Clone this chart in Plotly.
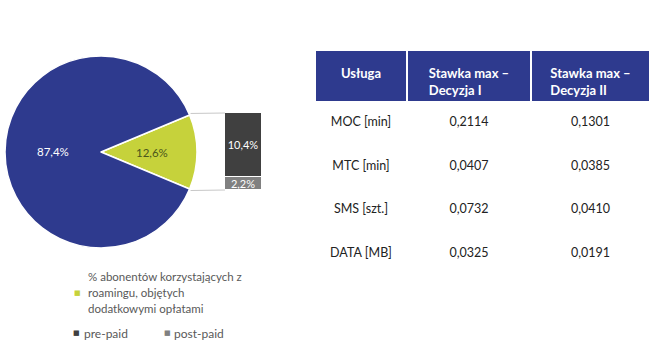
import math
import plotly.graph_objects as go

# ---------------- data ----------------
pie_labels = ["% abonentów korzystających z roamingu, objętych dodatkowymi opłatami", "pozostali"]
pie_values = [12.6, 87.4]
pie_text = ["12,6%", "87,4%"]

bar_names = ["post-paid", "pre-paid"]
bar_values = [2.2, 10.4]
bar_text = ["2,2%", "10,4%"]

table_header = ["Usługa", "Stawka max –<br>Decyzja I", "Stawka max –<br>Decyzja II"]
services = ["MOC [min]", "MTC [min]", "SMS [szt.]", "DATA [MB]"]
rate_dec1 = ["0,2114", "0,0407", "0,0732", "0,0325"]
rate_dec2 = ["0,1301", "0,0385", "0,0410", "0,0191"]

legend_main_lines = ["% abonentów korzystających z", "roamingu, objętych", "dodatkowymi opłatami"]

# ---------------- style ----------------
W, H = 655, 353
FONT = "Lato"
BLUE = "#2E3A8E"
YELLOW = "#C6D23B"
DARK = "#404040"
LIGHT = "#808080"
TXT = "#595959"
PIE_TXT = ["#4A561C", "white"]

def px(x):
    return x / W

def py(y):
    return 1 - y / H

# pie geometry (pixels)
pie_l, pie_r, pie_t, pie_b = 5, 197, 56, 248
cx, cy = (pie_l + pie_r) / 2, (pie_t + pie_b) / 2
rad = (pie_r - pie_l) / 2
total = sum(pie_values)
half = pie_values[0] / total * 360 / 2

# bar geometry (pixels)
bar_l, bar_r, bar_t, bar_b = 225, 262, 113, 190

fig = go.Figure()

fig.add_trace(go.Pie(
    labels=pie_labels, values=pie_values,
    textinfo="none", sort=False, direction="clockwise",
    rotation=90 - half,
    marker=dict(colors=[YELLOW, BLUE], line=dict(color="white", width=1.5)),
    domain=dict(x=[px(pie_l), px(pie_r)], y=[py(pie_b), py(pie_t)]),
    showlegend=False, hoverinfo="skip",
))

# slice labels placed at the middle angle of each slice (angle from data)
start = half  # degrees, counter-clockwise from 3 o'clock; slices go clockwise
for val, txt, col, frac in zip(pie_values, pie_text, PIE_TXT, [0.53, 0.5]):
    span = val / total * 360
    mid = math.radians(start - span / 2)
    lx, ly = cx + frac * rad * math.cos(mid), cy - frac * rad * math.sin(mid)
    fig.add_annotation(x=px(lx), y=py(ly), xref="paper", yref="paper", text=txt,
                       showarrow=False, xanchor="center", yanchor="middle",
                       font=dict(family=FONT, size=11.5, color=col))
    start -= span

for name, val, txt, col in zip(bar_names, bar_values, bar_text, [LIGHT, DARK]):
    fig.add_trace(go.Bar(
        x=["roaming"], y=[val], name=name, text=[txt],
        textposition="inside", insidetextanchor="middle", textangle=0,
        textfont=dict(family=FONT, size=11, color="white"),
        marker=dict(color=col, line=dict(color="white", width=1)),
        showlegend=False, xaxis="x", yaxis="y", hoverinfo="skip",
    ))

tab_x = [px(315), px(651)]
colw = [92, 124, 119]
HEAD_TOP, HEAD_H, TEXT_SHIFT = 50, 52, 7

# header background (blue cells with white column separators)
fig.add_trace(go.Table(
    domain=dict(x=tab_x, y=[py(HEAD_TOP + HEAD_H), py(HEAD_TOP)]),
    columnwidth=colw,
    header=dict(
        values=["", "", ""],
        fill_color=BLUE, line=dict(color="white", width=1.5),
        height=HEAD_H,
    ),
    cells=dict(values=[[], [], []]),
))

# header text (transparent, shifted down to sit centred) + body rows
fig.add_trace(go.Table(
    domain=dict(x=tab_x, y=[0, py(HEAD_TOP + TEXT_SHIFT)]),
    columnwidth=colw,
    header=dict(
        values=["<b>%s</b>" % h for h in table_header],
        fill_color="rgba(0,0,0,0)", line=dict(color="rgba(0,0,0,0)", width=0),
        font=dict(family=FONT, size=13, color="white"),
        align="center", height=HEAD_H,
    ),
    cells=dict(
        values=[services, rate_dec1, rate_dec2],
        fill_color="white", line=dict(color="white", width=0),
        font=dict(family=FONT, size=12.5, color="#222222"),
        align="center", height=43.5,
    ),
))

# connector lines from wedge edge to bar
for sgn, by in [(1, bar_t), (-1, bar_b)]:
    x0 = cx + rad * math.cos(math.radians(half))
    y0 = cy - sgn * rad * math.sin(math.radians(half))
    fig.add_shape(type="line", xref="paper", yref="paper",
                  x0=px(x0 + 1), y0=py(y0 - sgn * 1.5), x1=px(bar_l), y1=py(by),
                  line=dict(color="#C8C8C8", width=1))

# legend as annotations
for x, y, col in [(77, 293, YELLOW), (76, 333, DARK), (167, 333, LIGHT)]:
    fig.add_annotation(x=px(x), y=py(y), xref="paper", yref="paper",
                       text="■", showarrow=False, xanchor="center", yanchor="middle",
                       font=dict(family="DejaVu Sans", size=7, color=col))
for i, line in enumerate(legend_main_lines):
    fig.add_annotation(x=px(86), y=py(276 + 16 * i), xref="paper", yref="paper", text=line,
                       showarrow=False, xanchor="left", yanchor="middle", align="left",
                       font=dict(family=FONT, size=11.5, color=TXT))
for x, name in [(82, bar_names[1]), (172, bar_names[0])]:
    fig.add_annotation(x=px(x), y=py(333), xref="paper", yref="paper", text=name,
                       showarrow=False, xanchor="left", yanchor="middle",
                       font=dict(family=FONT, size=12, color=TXT))

fig.update_layout(
    width=W, height=H, margin=dict(l=0, r=0, t=0, b=0),
    paper_bgcolor="white", plot_bgcolor="rgba(0,0,0,0)",
    barmode="stack", bargap=0,
    xaxis=dict(domain=[px(bar_l), px(bar_r)], visible=False, fixedrange=True),
    yaxis=dict(domain=[py(bar_b), py(bar_t)], range=[0, sum(bar_values)], visible=False, fixedrange=True),
    uniformtext=dict(mode="show", minsize=10),
    font=dict(family=FONT),
)

fig.write_html("out.html")
